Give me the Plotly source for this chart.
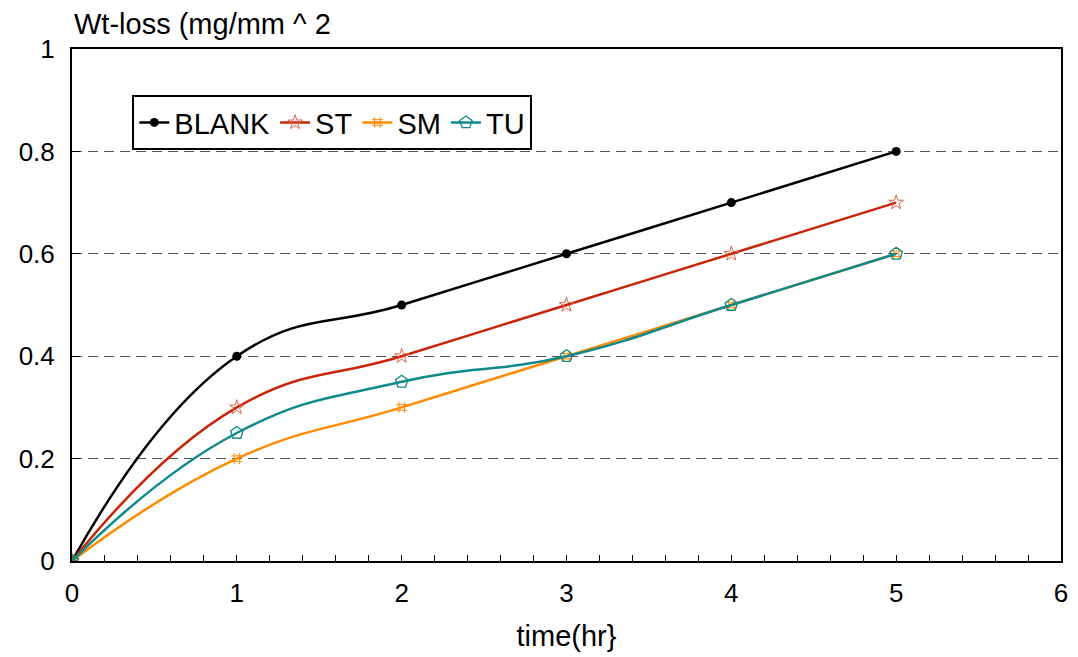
import plotly.graph_objects as go

time_hr = [0, 1, 2, 3, 4, 5]
blank = [0, 0.4, 0.5, 0.6, 0.7, 0.8]
st = [0, 0.3, 0.4, 0.5, 0.6, 0.7]
sm = [0, 0.2, 0.3, 0.4, 0.5, 0.6]
tu = [0, 0.25, 0.35, 0.4, 0.5, 0.6]

y_ticks = [0, 0.2, 0.4, 0.6, 0.8, 1]
y_tick_text = ["0", "0.2", "0.4", "0.6", "0.8", "1"]
x_ticks = [0, 1, 2, 3, 4, 5, 6]

FONT = "Liberation Sans, Arial, sans-serif"
FS = 29

fig = go.Figure()

series = [
    ("BLANK", blank, "#000000", dict(symbol="circle", size=9, color="#000000")),
    ("ST", st, "#C8260A", dict(symbol="star-open", size=11, color="#E0604A", line=dict(width=1, color="#E0604A"))),
    ("SM", sm, "#FF8A00", dict(symbol="hash-open", size=11, color="#FF8A00", line=dict(width=1, color="#FF8A00"))),
    ("TU", tu, "#0E8A8A", dict(symbol="pentagon-open", size=13, color="#0E8A8A", line=dict(width=1.3, color="#0E8A8A"))),
]

for name, ys, col, mk in series:
    fig.add_trace(go.Scatter(
        x=time_hr, y=ys, name=name, mode="lines+markers",
        line=dict(color=col, width=2.5, shape="spline", smoothing=1.3),
        marker=mk,
    ))

fig.update_layout(
    width=1078, height=657,
    margin=dict(l=72, r=10, t=49, b=96),
    paper_bgcolor="white", plot_bgcolor="white",
    font=dict(family=FONT, size=FS, color="#000"),
    showlegend=True,
    legend=dict(
        orientation="h", x=0.061, y=0.91, xanchor="left", yanchor="top",
        bordercolor="#000", borderwidth=2, bgcolor="white",
        font=dict(family=FONT, size=FS), itemwidth=30,
        tracegroupgap=0,
    ),
    annotations=[dict(
        text="Wt-loss (mg/mm ^ 2", xref="paper", yref="paper",
        x=0, y=1.049, xanchor="left", yanchor="middle", showarrow=False,
        font=dict(family=FONT, size=FS, color="#000"),
    )],
)

fig.update_xaxes(
    range=[0, 6], tickvals=x_ticks, ticks="inside", ticklen=6, tickcolor="#000",
    minor=dict(dtick=0.2, ticks="inside", ticklen=6, tickcolor="#000", showgrid=False),
    showline=True, linecolor="#000", linewidth=2, mirror=True,
    showgrid=False, zeroline=False, ticklabelstandoff=8,
    title=dict(text="time(hr}", font=dict(family=FONT, size=FS), standoff=18),
    tickfont=dict(family=FONT, size=26),
)
fig.update_yaxes(
    range=[0, 1], tickvals=y_ticks, ticktext=y_tick_text,
    ticks="inside", ticklen=8, tickcolor="#000",
    showline=True, linecolor="#000", linewidth=2, mirror=True,
    showgrid=True, gridcolor="#555", griddash="10px,6px", gridwidth=1,
    zeroline=False, ticklabelstandoff=10,
    tickfont=dict(family=FONT, size=26),
)

fig.write_html("out.html")
